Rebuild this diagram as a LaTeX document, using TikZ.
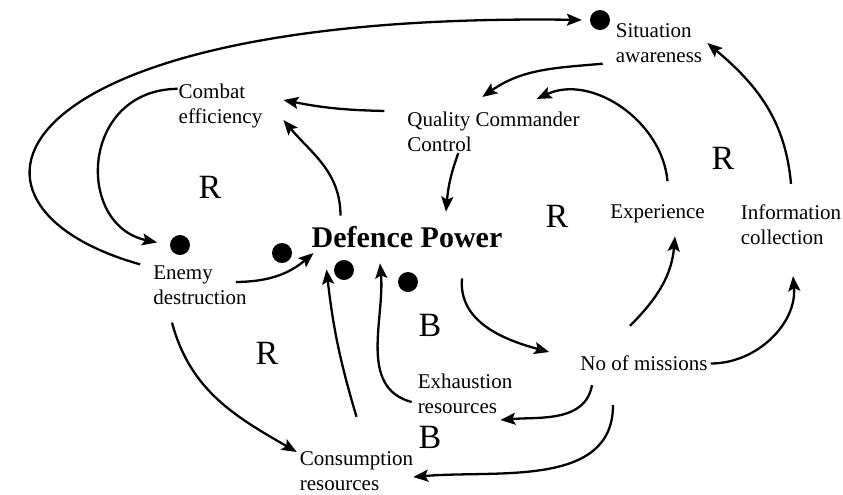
\documentclass[tikz,border=0pt]{standalone}
\usepackage{fontspec}
\setmainfont{Liberation Serif}
\usetikzlibrary{arrows.meta}

\begin{document}
\begin{tikzpicture}[x=0.5pt, y=-0.5pt, line width=1.15pt,
    >={Stealth[length=7.5pt,width=6pt,inset=1.5pt]},
    varlbl/.style={font=\fontsize{10.5}{12.5}\selectfont, align=left, inner sep=0pt},
    polarity/.style={circle, fill, inner sep=0pt, minimum size=10pt},
    looplbl/.style={font=\fontsize{17}{20}\selectfont, inner sep=0pt}]
    \useasboundingbox (0,0) rectangle (843,494);

    % variables
    \node[varlbl] (sit) at (659,43) {Situation\\awareness};
    \node[varlbl] (cmb) at (220.5,106) {Combat\\efficiency};
    \node[varlbl] (qcc) at (493.5,132) {Quality Commander\\Control};
    \node[inner sep=0pt, font=\fontsize{15}{17}\selectfont\bfseries] (dp) at (407,237.5) {Defence Power};
    \node[varlbl] (exp) at (657.5,213.5) {Experience};
    \node[varlbl] (inf) at (791,225) {Information\\collection};
    \node[varlbl] (enm) at (200,285) {Enemy\\destruction};
    \node[varlbl] (exh) at (465,394) {Exhaustion\\resources};
    \node[varlbl] (con) at (356.5,471.5) {Consumption\\resources};
    \node[varlbl] (nom) at (644,363.5) {No of missions};

    % polarity dots
    \node[polarity] (dsa) at (600,20) {};
    \node[polarity] (d1) at (180,245) {};
    \node[polarity] (d2) at (282,253) {};
    \node[polarity] (d3) at (344,270) {};
    \node[polarity] (d4) at (408,282) {};

    % loop labels
    \node[looplbl] (r1) at (210,187) {R};
    \node[looplbl] (r2) at (723,158) {R};
    \node[looplbl] (r3) at (557,216) {R};
    \node[looplbl] (r4) at (267,353) {R};
    \node[looplbl] (b1) at (430,325) {B};
    \node[looplbl] (b2) at (430,437) {B};

    % links
    \draw[->, shorten >=3.5pt] ([xshift=-6pt]enm.north west) .. controls (-72,205) and (-5,12) .. (dsa.west);
    \draw[->, shorten >=6pt] ([yshift=-3pt]cmb.north west) .. controls (80,90) and (75,225) .. (d1.west);
    \draw[->] ([xshift=-11pt]qcc.north west) to[bend left=5] ([xshift=10pt,yshift=3pt]cmb.east);
    \draw[->] ([xshift=15pt,yshift=5pt]dp.north west) to[out=90,in=-50] ([xshift=10pt,yshift=-7pt]cmb.east);
    \draw[->] ([xshift=-6pt]sit.south west) to[out=185,in=35] ([xshift=38pt,yshift=7pt]qcc.north west);
    \draw[->] ([xshift=5pt,yshift=11pt]exp.north) to[out=95,in=25] ([xshift=-22pt,yshift=6pt]qcc.north east);
    \draw[->] ([yshift=10pt]inf.north) to[out=95,in=-40] ([xshift=2pt]sit.east);
    \draw[->] ([xshift=26pt]qcc.south west) to[out=-110,in=85] ([xshift=19.5pt,yshift=7pt]dp.north);
    \draw[->] ([xshift=-6pt,yshift=1.5pt]enm.east) to[bend right=20] ([xshift=1.5pt,yshift=-7.75pt]dp.west);
    \draw[->] ([yshift=17pt]con.north) to[bend left=5] ([xshift=8pt,yshift=-10pt]dp.south west);
    \draw[->] ([xshift=-2.5pt,yshift=-4pt]exh.west) to[out=165,in=-85] ([xshift=-13.5pt,yshift=-7pt]dp.south);
    \draw[->] ([xshift=-14pt,yshift=-8.5pt]enm.south) to[out=-75,in=150] ([xshift=-1pt,yshift=9.75pt]con.west);
    \draw[->] ([xshift=27.5pt,yshift=-14.5pt]dp.south) to[out=-95,in=165] ([xshift=-15pt,yshift=5.75pt]nom.west);
    \draw[->] ([xshift=-7pt,yshift=14.5pt]nom.north) to[out=45,in=-95] ([xshift=8.75pt,yshift=-6.25pt]exp.south);
    \draw[->] ([xshift=1pt]nom.east) to[out=0,in=-85] ([xshift=1pt,yshift=-15pt]inf.south);
    \draw[->] ([xshift=-26pt,yshift=-6.5pt]nom.south) to[out=-100,in=5] ([xshift=-6.5pt,yshift=-2.5pt]exh.south east);
    \draw[->] ([xshift=-15.5pt,yshift=-16.5pt]nom.south) to[out=-90,in=5] ([xshift=-0.5pt,yshift=-2.75pt]con.east);
\end{tikzpicture}
\end{document}
